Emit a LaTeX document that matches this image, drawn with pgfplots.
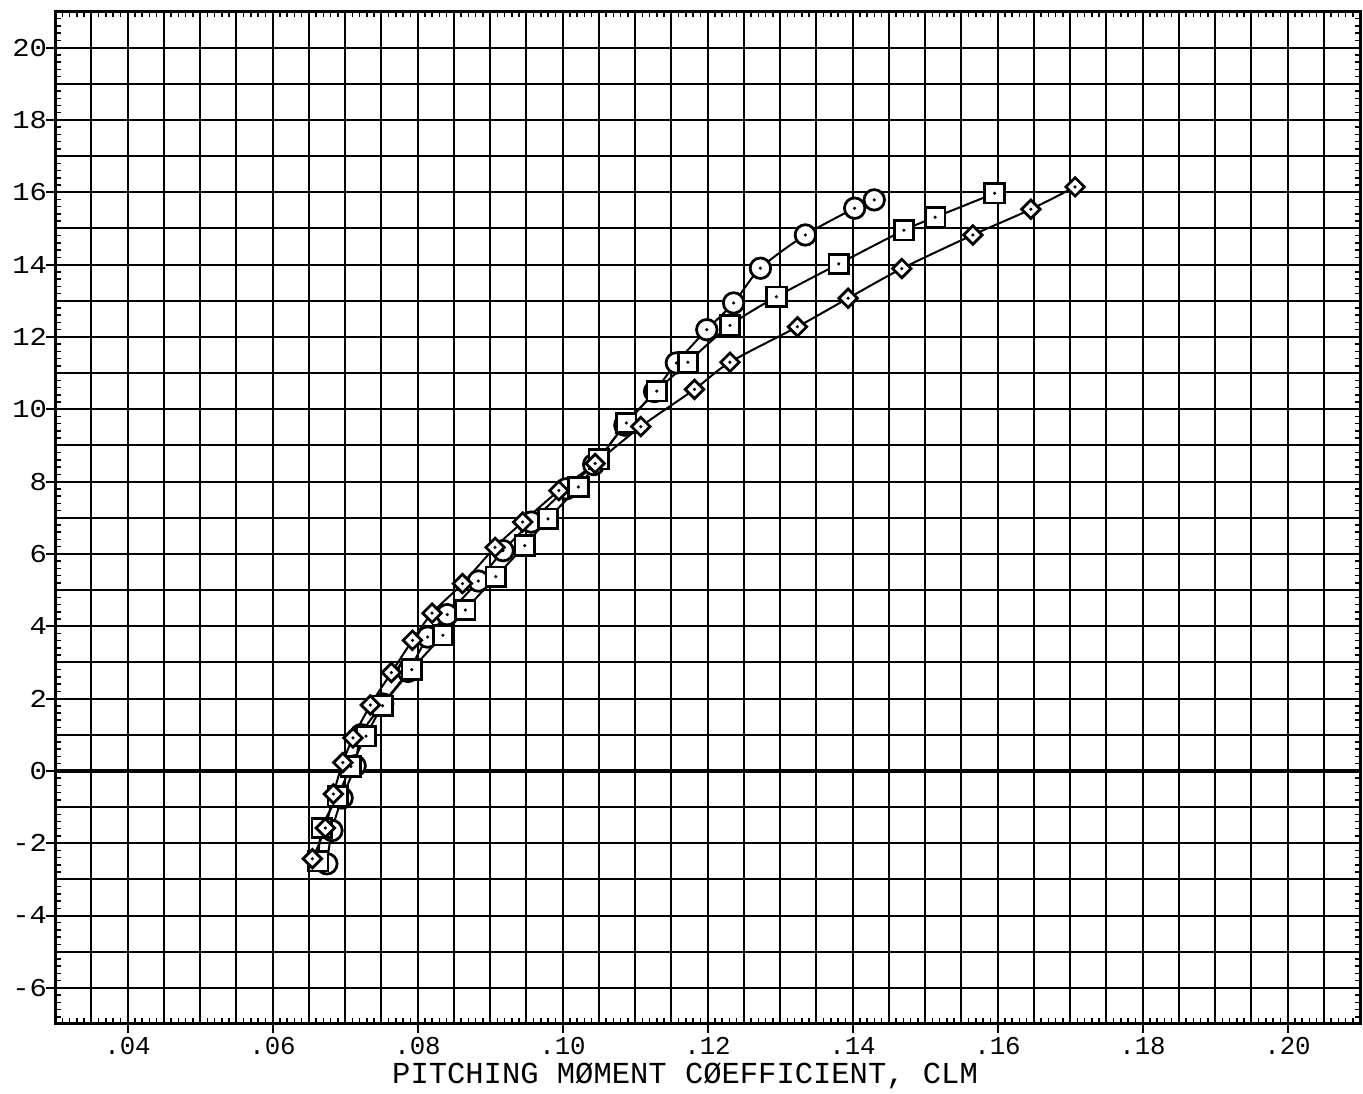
\documentclass[border=0pt]{standalone}
\usepackage{fontspec}
\setmainfont{Liberation Mono}
\newfontfamily\ylabfont[FakeStretch=1.12]{Liberation Mono}
\usepackage{pgfplots}
\usepackage{pgfplotstable}
\pgfplotsset{compat=1.18}

\pgfdeclareplotmark{cdot}{%
  \pgfpathcircle{\pgfpointorigin}{\pgfplotmarksize}\pgfusepathqfillstroke
  \pgfscope\pgfsetfillcolor{black}\pgfpathcircle{\pgfpointorigin}{0.7pt}\pgfusepathqfill\endpgfscope}
\pgfdeclareplotmark{sdot}{%
  \pgfpathrectangle{\pgfpoint{-\pgfplotmarksize}{-\pgfplotmarksize}}{\pgfpoint{2\pgfplotmarksize}{2\pgfplotmarksize}}\pgfusepathqfillstroke
  \pgfscope\pgfsetfillcolor{black}\pgfpathcircle{\pgfpointorigin}{0.7pt}\pgfusepathqfill\endpgfscope}
\pgfdeclareplotmark{ddot}{%
  \pgfpathmoveto{\pgfqpoint{0pt}{\pgfplotmarksize}}%
  \pgfpathlineto{\pgfqpoint{\pgfplotmarksize}{0pt}}%
  \pgfpathlineto{\pgfqpoint{0pt}{-\pgfplotmarksize}}%
  \pgfpathlineto{\pgfqpoint{-\pgfplotmarksize}{0pt}}%
  \pgfpathclose\pgfusepathqfillstroke
  \pgfscope\pgfsetfillcolor{black}\pgfpathcircle{\pgfpointorigin}{0.7pt}\pgfusepathqfill\endpgfscope}

\pgfplotstableread{
x y
0.0675 -2.57
0.0682 -1.65
0.0696 -0.75
0.0714 0.14
0.0722 1.00
0.0752 1.85
0.0787 2.75
0.0814 3.70
0.0841 4.32
0.0884 5.25
0.0918 6.09
0.0957 6.88
0.1005 7.80
0.1043 8.47
0.1086 9.56
0.1127 10.49
0.1157 11.28
0.1199 12.20
0.1236 12.94
0.1273 13.90
0.1335 14.82
0.1403 15.56
0.1430 15.79
}\circdata

\pgfplotstableread{
x y
0.0663 -2.50
0.0668 -1.58
0.0690 -0.70
0.0708 0.12
0.0729 0.96
0.0752 1.80
0.0792 2.80
0.0835 3.75
0.0866 4.45
0.0908 5.37
0.0948 6.23
0.0980 6.97
0.1022 7.85
0.1050 8.62
0.1088 9.62
0.1130 10.50
0.1173 11.30
0.1231 12.32
0.1295 13.11
0.1381 14.02
0.1471 14.95
0.1514 15.31
0.1596 15.97
}\squaredata

\pgfplotstableread{
x y
0.0655 -2.43
0.0673 -1.58
0.0684 -0.64
0.0697 0.23
0.0711 0.91
0.0735 1.82
0.0764 2.72
0.0793 3.61
0.0820 4.36
0.0862 5.18
0.0907 6.18
0.0945 6.88
0.0995 7.75
0.1045 8.50
0.1108 9.52
0.1182 10.55
0.1231 11.30
0.1324 12.28
0.1394 13.07
0.1468 13.89
0.1566 14.82
0.1646 15.53
0.1707 16.15
}\diamdata

\begin{document}
\begin{tikzpicture}
\begin{axis}[
  name=ax,
  scale only axis,
  width=522pt, height=405pt,
  xmin=0.03, xmax=0.21, ymin=-7, ymax=21,
  xtick={0.03,0.035,...,0.2101}, xticklabels={},
  ytick={-7,-6,...,21}, yticklabels={},
  minor x tick num=4, minor y tick num=4,
  major tick length=0pt, minor tick length=2.2pt,
  tick align=inside,
  grid=major,
  major grid style={black, line width=0.8pt},
  every minor tick/.style={black, line width=0.6pt},
  axis line style={black, line width=1.2pt},
  extra x ticks={0.04,0.06,...,0.2001},
  extra x tick labels={.04,.06,.08,.10,.12,.14,.16,.18,.20},
  extra y ticks={-6,-4,...,20},
  extra y tick labels={-6,-4,-2,0,2,4,6,8,10,12,14,16,18,20},
  extra tick style={grid=none, tick align=outside, major tick length=3.6pt,
     every major tick/.style={black, line width=0.8pt},
     xtick pos=bottom, ytick pos=left},
  xticklabel style={font=\fontsize{10.3}{12}\selectfont, anchor=base, yshift=-8.8pt, inner sep=0pt},
  yticklabel style={font=\ylabfont\fontsize{10.3}{12}\selectfont, anchor=east, xshift=0.6pt, inner sep=0pt},
  xlabel={PITCHING MØMENT CØEFFICIENT, CLM},
  xlabel style={at={(axis description cs:0.4828,0)}, anchor=base, yshift=-24pt,
     inner sep=0pt, font=\fontsize{12.2}{14}\selectfont},
]
\draw[black, line width=1.6pt] (axis cs:0.03,0) -- (axis cs:0.21,0);
\addplot[black, line width=0.8pt, smooth, mark=cdot, mark size=4.1pt,
   mark options={fill=white, line width=1.1pt}] table[x=x,y=y] {\circdata};
\addplot[black, line width=0.8pt, smooth, mark=sdot, mark size=3.9pt,
   mark options={fill=white, line width=1.1pt}] table[x=x,y=y] {\squaredata};
\addplot[black, line width=0.8pt, smooth, mark=ddot, mark size=3.7pt,
   mark options={fill=white, line width=1.1pt}] table[x=x,y=y] {\diamdata};
\end{axis}
\pgfresetboundingbox
\path[use as bounding box] ([xshift=-22pt,yshift=-28pt]ax.south west) rectangle ([xshift=1.2pt,yshift=4.6pt]ax.north east);
\end{tikzpicture}
\end{document}
